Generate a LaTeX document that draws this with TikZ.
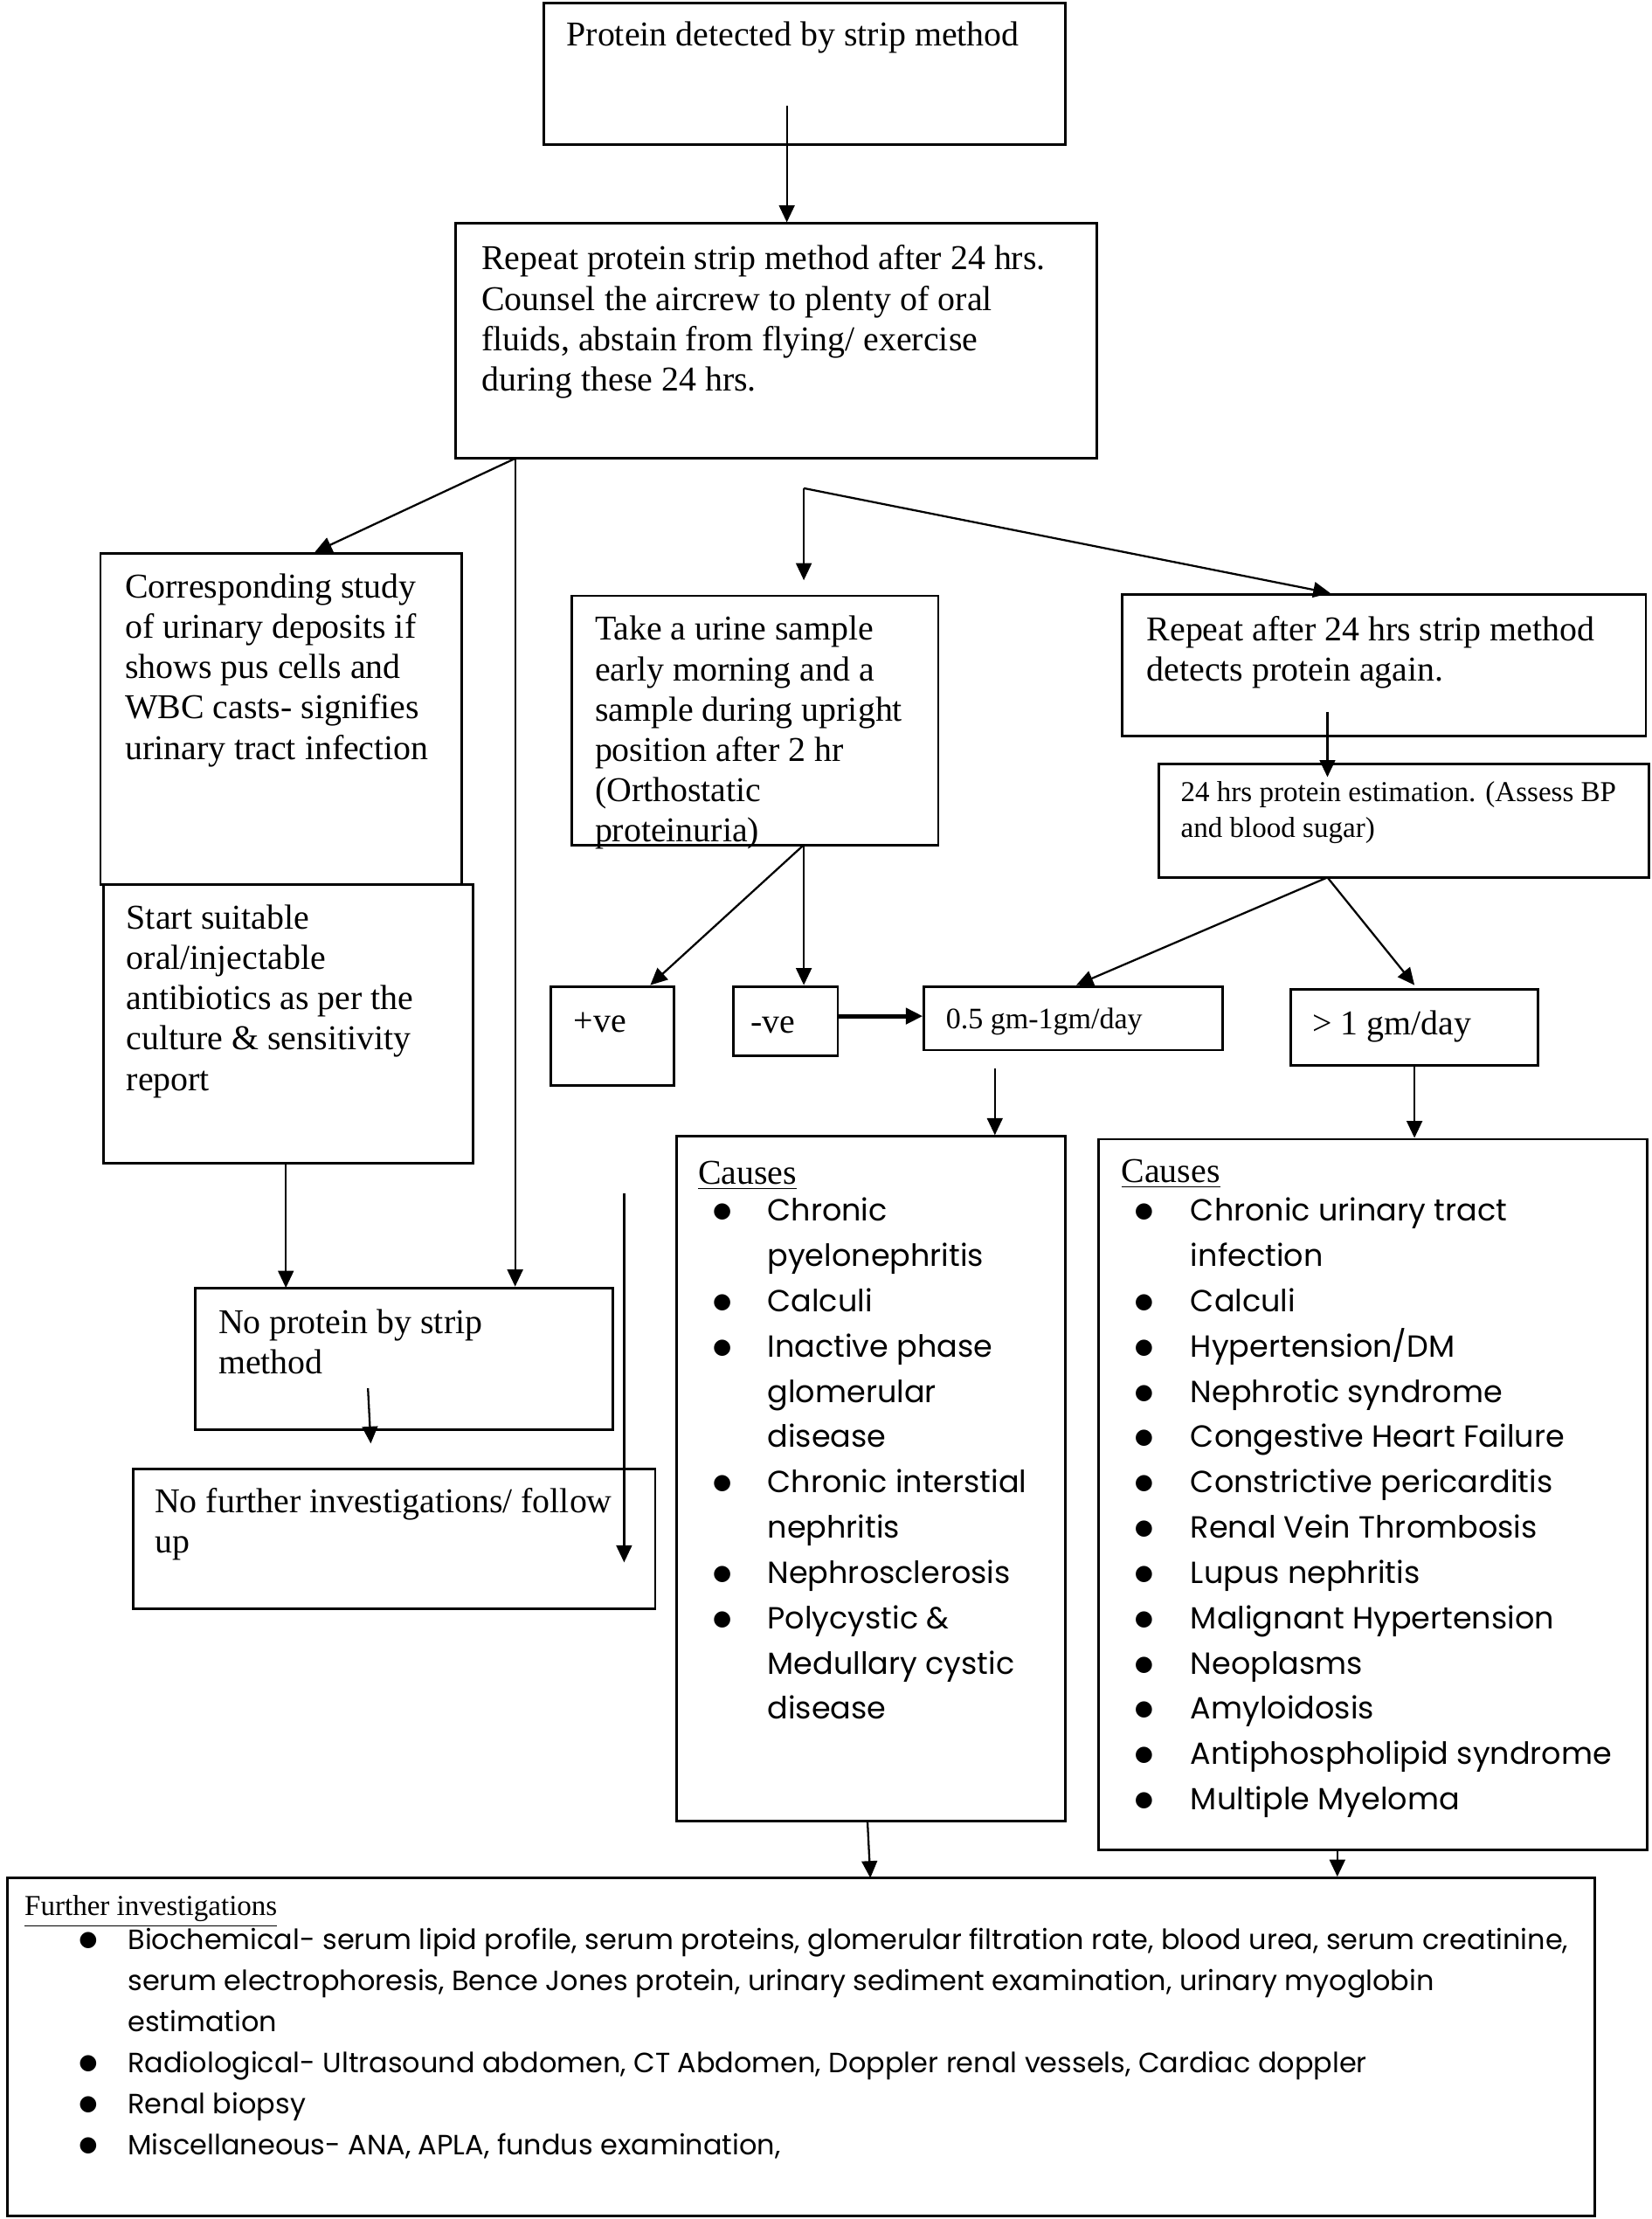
\documentclass[tikz,border=0pt]{standalone}
\usepackage{fontspec}
\setmainfont{Liberation Serif}
\newfontfamily\gothic{Poppins}
\newfontfamily\dotfont{DejaVu Sans}
\usetikzlibrary{arrows.meta,fit,calc}
\newcommand\dotitem{\makebox[0pt]{\raisebox{1.2pt}{\dotfont\fontsize{7.5}{8}\selectfont ●}}}

\begin{document}
\begin{tikzpicture}[x=0.5pt, y=-0.5pt, >={Triangle[length=6pt,width=5.5pt]},
  box/.style={draw, line width=0.9pt, inner sep=0pt},
  txt/.style={anchor=north west, align=left, inner sep=0pt, font=\fontsize{12.3}{14.25}\selectfont},
  small/.style={txt, font=\fontsize{10.2}{12.5}\selectfont},
  list/.style={anchor=north west, inner sep=0pt, font=\gothic\fontsize{10.8}{16}\selectfont},
  arrow/.style={->, line width=0.7pt}]
  \useasboundingbox (0,0) rectangle (1167,1568);

  % boxes
  \node[box, fit={(384,2) (753,102)}] (detect) {};
  \node[box, fit={(322,158) (775,324)}] (repeat) {};
  \node[box, fit={(71,391) (326,625)}] (study) {};
  \node[box, fit={(73,625) (334,822)}] (antib) {};
  \node[box, fit={(404,421) (663,597)}] (urine) {};
  \node[box, fit={(793,420) (1163,520)}] (again) {};
  \node[box, fit={(819,540) (1165,620)}] (estim) {};
  \node[box, fit={(389,697) (476,767)}] (pos) {};
  \node[box, fit={(518,697) (592,746)}] (neg) {};
  \node[box, fit={(653,697) (864,742)}] (low) {};
  \node[box, fit={(912,699) (1087,753)}] (high) {};
  \node[box, fit={(478,803) (753,1287)}] (causesA) {};
  \node[box, fit={(776,805) (1164,1307)}] (causesB) {};
  \node[box, fit={(138,910) (433,1010)}] (noprot) {};
  \node[box, fit={(94,1038) (463,1137)}] (nofurther) {};
  \node[box, fit={(5,1327) (1127,1566)}] (further) {};

  % texts
  \node[txt] at (400,15) {Protein detected by strip method};
  \node[txt] at (340,173) {Repeat protein strip method after 24 hrs.\\Counsel the aircrew to plenty of oral\\fluids, abstain from flying/ exercise\\during these 24 hrs.};
  \node[txt] at (88,405) {Corresponding study\\of urinary deposits if\\shows pus cells and\\WBC casts- signifies\\urinary tract infection};
  \node[txt] at (89,639) {Start suitable\\oral/injectable\\antibiotics as per the\\culture \& sensitivity\\report};
  \node[txt] at (420,435) {Take a urine sample\\early morning and a\\sample during upright\\position after 2 hr\\(Orthostatic\\proteinuria)};
  \node[txt] at (810,435) {Repeat after 24 hrs strip method\\detects protein again.};
  \node[small] at (834,552) {24 hrs protein estimation. (Assess BP\\and blood sugar)};
  \node[txt] at (405,715) {+ve};
  \node[txt] at (530,718) {-ve};
  \node[small, font=\fontsize{10.5}{12.5}\selectfont] at (668,712) {0.5 gm-1gm/day};
  \node[txt] at (927,714) {> 1 gm/day};
  \node[txt] at (154,925) {No protein by strip\\method};
  \node[txt] at (109,1051) {No further investigations/ follow\\up};

  % causes
  \node[txt] at (493,820) {\underline{Causes}};
  \node[list] at (510,840) {\begin{tabular}{@{}p{16pt}@{}l@{}}
    \dotitem & Chronic\\
             & pyelonephritis\\
    \dotitem & Calculi\\
    \dotitem & Inactive phase\\
             & glomerular\\
             & disease\\
    \dotitem & Chronic interstial\\
             & nephritis\\
    \dotitem & Nephrosclerosis\\
    \dotitem & Polycystic \&\\
             & Medullary cystic\\
             & disease
  \end{tabular}};
  \node[txt] at (792,819) {\underline{Causes}};
  \node[list] at (808,840) {\begin{tabular}{@{}p{16.5pt}@{}l@{}}
    \dotitem & Chronic urinary tract\\
             & infection\\
    \dotitem & Calculi\\
    \dotitem & Hypertension/DM\\
    \dotitem & Nephrotic syndrome\\
    \dotitem & Congestive Heart Failure\\
    \dotitem & Constrictive pericarditis\\
    \dotitem & Renal Vein Thrombosis\\
    \dotitem & Lupus nephritis\\
    \dotitem & Malignant Hypertension\\
    \dotitem & Neoplasms\\
    \dotitem & Amyloidosis\\
    \dotitem & Antiphospholipid syndrome\\
    \dotitem & Multiple Myeloma
  \end{tabular}};

  % further investigations
  \node[small] at (17,1339) {\underline{Further investigations}};
  \node[list, font=\gothic\fontsize{9.85}{14.5}\selectfont] at (62,1357) {\begin{tabular}{@{}p{14pt}@{}l@{}}
    \dotitem & Biochemical- serum lipid profile, serum proteins, glomerular filtration rate, blood urea, serum creatinine,\\
             & serum electrophoresis, Bence Jones protein, urinary sediment examination, urinary myoglobin\\
             & estimation\\
    \dotitem & Radiological- Ultrasound abdomen, CT Abdomen, Doppler renal vessels, Cardiac doppler\\
    \dotitem & Renal biopsy\\
    \dotitem & Miscellaneous- ANA, APLA, fundus examination,
  \end{tabular}};

  % connectors
  \coordinate (s1) at (556,75);
  \draw[arrow] (s1) -- (s1 |- repeat.north);
  \coordinate (fork) at (364,324);
  \draw[arrow] (fork) -- ($(study.north)+(24,0)$);
  \draw[arrow] (fork) -- (fork |- noprot.north);
  \coordinate (split) at (568,345);
  \coordinate (urinetip) at (568,410);
  \draw[arrow] (split) -- (urinetip);
  \draw[arrow] (split) -- ($(again.north)+(-38,0)$);
  \coordinate (s5) at (938,503);
  \draw[arrow] (s5) -- ($(s5 |- estim.north)+(0,10)$);
  \coordinate (u1) at (568,597);
  \draw[arrow] (u1) -- ($(pos.north)+(27,0)$);
  \draw[arrow] (u1) -- (u1 |- neg.north);
  \draw[->, line width=1.6pt] (neg.east |- 0,718) -- (low.west |- 0,718);
  \coordinate (e1) at (938,620);
  \draw[arrow] (e1) -- ($(low.north)+(2,0)$);
  \draw[arrow] (e1) -- ($(high.north)+(0,-2)$);
  \coordinate (s11) at (703,755);
  \draw[arrow] (s11) -- (s11 |- causesA.north);
  \draw[arrow] (high.south) -- (high.south |- causesB.north);
  \draw[arrow] (202,822) -- (202,910);
  \coordinate (s14) at (260,981);
  \coordinate (t14) at (262,1020);
  \draw[arrow] (s14) -- (t14);
  \coordinate (s15) at (441,843);
  \coordinate (t15) at (441,1104);
  \draw[arrow] (s15) -- (t15);
  \coordinate (s16) at (613,1287);
  \draw[arrow] (s16) -- (615,1327);
  \coordinate (s17) at (945,1307);
  \draw[arrow] (s17) -- (s17 |- further.north);
\end{tikzpicture}
\end{document}
